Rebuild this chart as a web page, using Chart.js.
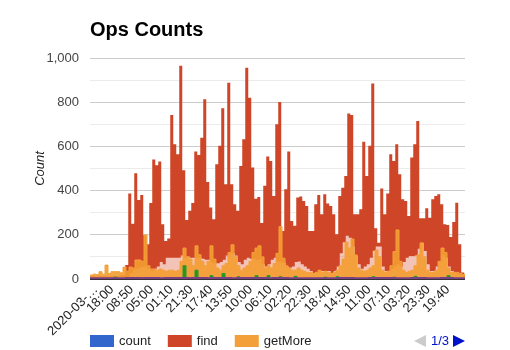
<!DOCTYPE html>
<html lang="en">
  <head>
    <meta charset="utf-8" />
    <title>Ops Counts</title>
    <script src="https://cdn.jsdelivr.net/npm/chart.js@4.4.1/dist/chart.umd.min.js"></script>
    <style>
      body { margin: 0; background: #fff; }
      #wrap { width: 510px; height: 350px; }
    </style>
  </head>
  <body>
    <div id="wrap"><canvas id="opsChart" width="510" height="350"></canvas></div>
    <script>
      var chartTitle = "Ops Counts";
      var axisTitle = "Count";

      // time axis labels and the slot each one sits at
      var tickLabels = ["2020-03-…", "18:00", "08:50", "05:00", "01:10", "21:30", "17:40", "13:50", "10:00",
        "06:10", "02:20", "22:30", "18:40", "14:50", "11:00", "07:10", "03:20", "23:30", "19:40"];
      var tickSlots = [2, 7.3, 13.9, 20.5, 27.1, 33.7, 40.3, 46.9, 53.5, 60.1, 66.6, 73.2, 79.8, 86.4, 93.0,
        99.6, 106.2, 112.8, 119.3];

      // one value per slot (each slot ~ a few samples)
      var countOps = [
        1,1,0,1,1,1,0,1,1,1,1,1,1,2,1,1,2,1,1,1,1,2,1,1,1,
        1,1,1,1,2,1,1,1,1,2,1,1,1,1,1,2,1,1,1,1,1,2,1,1,1,
        1,1,1,2,1,1,1,1,1,1,2,1,1,1,1,1,1,1,2,1,1,1,1,1,1,
        1,1,2,1,1,1,1,1,1,1,2,1,1,1,1,1,1,2,1,1,1,1,1,1,1,
        2,1,1,1,1,1,1,2,1,1,1,1,1,1,1,2,1,1,1,1,1,1,1,1,0];
      // find: highest and lowest sample in each slot
      var findPeak = [
        10,10,8,10,10,10,8,10,10,10,12,15,
        60,383,247,475,354,377,195,154,340,537,511,528,244,169,180,739,606,561,961,489,
        264,305,340,573,558,636,810,436,320,267,516,599,769,425,885,425,335,305,508,629,953,817,501,360,368,250,418,551,531,372,697,
        798,214,403,573,259,237,365,370,350,327,214,214,335,377,290,380,338,327,290,199,372,410,463,745,739,290,290,312,618,463,599,
        881,226,161,406,290,383,561,531,606,471,357,350,282,546,606,712,271,271,317,274,357,372,380,335,244,241,187,255,342,154,26];
      var findBase = [
        5,5,5,5,5,5,5,5,5,5,5,5,
        8,30,45,50,55,60,60,50,40,50,60,80,70,100,100,100,100,100,110,100,
        105,100,100,100,100,95,90,90,80,75,75,80,90,110,120,120,110,80,70,90,100,95,95,90,95,70,60,70,90,100,80,
        80,77,60,54,60,80,83,70,60,50,40,30,30,40,40,40,40,30,40,60,120,170,199,190,150,110,70,50,60,70,100,
        131,150,150,60,40,40,50,60,70,60,80,100,108,108,110,140,167,130,70,40,40,60,80,113,100,60,40,30,25,20,15];
      var getMore = [
        18,22,20,33,22,63,25,33,33,33,28,54,
        35,54,50,86,86,80,199,60,45,45,40,45,40,35,40,40,35,40,80,140,
        100,90,60,150,110,80,60,80,150,90,50,40,60,70,120,155,100,60,40,50,60,80,120,140,150,100,50,60,50,70,116,
        237,94,60,50,40,40,50,40,35,30,30,25,30,40,30,35,30,25,30,40,60,90,167,140,181,109,50,40,35,40,50,
        60,131,100,40,30,35,60,124,222,80,40,30,35,40,60,110,163,100,40,30,30,40,80,140,120,50,30,30,30,25,20];
      // series from the next legend pages
      var greenOps = [
        0,0,0,0,0,0,0,0,8,0,0,0,0,0,0,0,0,0,0,0,0,0,0,0,0,
        0,0,0,0,0,0,60,0,0,0,40,0,0,0,0,15,0,0,0,25,0,0,0,0,10,
        0,0,0,0,0,15,0,0,0,15,0,0,0,10,0,0,0,0,12,0,0,0,0,0,0,
        0,0,0,8,0,0,0,10,0,0,0,0,0,0,0,0,0,0,0,10,0,0,0,0,0,
        0,8,0,0,0,0,0,0,12,0,0,0,0,0,0,0,0,0,0,15,0,0,0,0,0];
      var purpleOps = [
        3,3,3,3,3,3,3,3,3,3,3,3,4,4,4,4,4,3,4,4,4,4,4,3,3,
        4,4,4,4,4,4,4,4,3,4,4,4,4,4,3,4,4,4,4,4,4,4,3,3,4,
        4,4,4,4,4,4,4,4,4,3,3,4,4,4,4,4,3,3,3,3,3,3,3,3,3,
        3,3,3,3,3,3,3,3,4,4,4,4,4,3,3,3,3,3,4,4,4,4,4,4,4,
        4,3,3,3,3,3,3,4,4,4,4,4,3,3,3,3,3,4,4,4,4,3,3,3,3];

      var fontFamily = '"Liberation Sans", Arial, sans-serif';

      function steps(hi, lo) {
        var pts = [];
        for (var i = 0; i < hi.length; i++) {
          pts.push({ x: i, y: hi[i] });
          if (lo) pts.push({ x: i + 0.5, y: lo[i] });
        }
        pts.push({ x: hi.length, y: lo ? lo[lo.length - 1] : hi[hi.length - 1] });
        return pts;
      }

      function area(label, pts, line, fillColor, width, order) {
        return {
          label: label,
          data: pts,
          borderColor: line,
          backgroundColor: fillColor,
          borderWidth: width,
          fill: "origin",
          stepped: true,
          pointRadius: 0,
          order: order,
        };
      }

      // legend with pager, like page 1 of 3
      var pagedLegend = {
        id: "pagedLegend",
        afterDraw: function (chart) {
          var ctx = chart.ctx;
          var left = chart.chartArea.left;
          ctx.save();
          ctx.fillStyle = "#000";
          ctx.font = "bold 20px " + fontFamily;
          ctx.textBaseline = "alphabetic";
          ctx.fillText(chartTitle, left, 36);

          ctx.font = "13px " + fontFamily;
          ctx.textBaseline = "middle";
          var x = left;
          for (var i = 0; i < 3; i++) {
            var ds = chart.data.datasets[i];
            ctx.fillStyle = ds.borderColor;
            ctx.fillRect(x, 335, 24, 12);
            ctx.fillStyle = "#222";
            ctx.fillText(ds.label, x + 29, 341);
            x += 29 + ctx.measureText(ds.label).width + 17;
          }
          ctx.fillStyle = "#cccccc";
          ctx.beginPath();
          ctx.moveTo(414, 341);
          ctx.lineTo(426, 335);
          ctx.lineTo(426, 347);
          ctx.fill();
          ctx.fillStyle = "#0011cc";
          ctx.fillText("1/3", 431, 341);
          ctx.beginPath();
          ctx.moveTo(453, 335);
          ctx.lineTo(465, 341);
          ctx.lineTo(453, 347);
          ctx.fill();
          ctx.restore();
        },
      };

      new Chart(document.getElementById("opsChart"), {
        type: "line",
        data: {
          datasets: [
            area("count", steps(countOps), "#3366cc", "rgba(51,102,204,0.3)", 1, 5),
            area("find", steps(findPeak, findBase), "#cf4527", "rgba(220,57,18,0.3)", 1.5, 4),
            area("getMore", steps(getMore), "#f4a03a", "rgba(243,156,48,0.9)", 1, 3),
            area("other 1", steps(greenOps), "#2a9a2a", "rgba(16,150,24,0.9)", 1, 2),
            area("other 2", steps(purpleOps), "#7b3f86", "rgba(153,0,153,0.3)", 2, 1),
          ],
        },
        options: {
          responsive: false,
          animation: false,
          layout: { padding: { top: 58, right: 45, left: 0, bottom: 0 } },
          plugins: { legend: { display: false }, tooltip: { enabled: false } },
          scales: {
            x: {
              type: "linear",
              min: 0,
              max: findPeak.length,
              grid: { display: false, drawTicks: false },
              border: { display: false },
              afterBuildTicks: function (axis) {
                axis.ticks = tickSlots.map(function (v) { return { value: v }; });
              },
              afterFit: function (axis) { axis.height = 71; },
              ticks: {
                autoSkip: false,
                maxRotation: 45,
                minRotation: 45,
                padding: 3,
                color: "#222",
                font: { size: 13, family: fontFamily },
                callback: function (v, i) { return tickLabels[i]; },
              },
            },
            y: {
              min: 0,
              max: 1000,
              afterFit: function (axis) { axis.width = 90; },
              border: { display: false },
              grid: {
                drawTicks: false,
                color: function (c) {
                  if (c.tick.value === 0) return "#333";
                  return c.tick.value % 200 === 0 ? "#cccccc" : "#ebebeb";
                },
              },
              ticks: {
                stepSize: 100,
                padding: 11,
                color: "#444",
                font: { size: 13, family: fontFamily },
                callback: function (v) { return v % 200 === 0 ? v.toLocaleString("en-US") : ""; },
              },
              title: {
                display: true,
                text: axisTitle,
                color: "#222",
                font: { size: 13, style: "italic", family: fontFamily },
                padding: { top: 33, bottom: 0 },
              },
            },
          },
        },
        plugins: [pagedLegend],
      });
    </script>
  </body>
</html>
